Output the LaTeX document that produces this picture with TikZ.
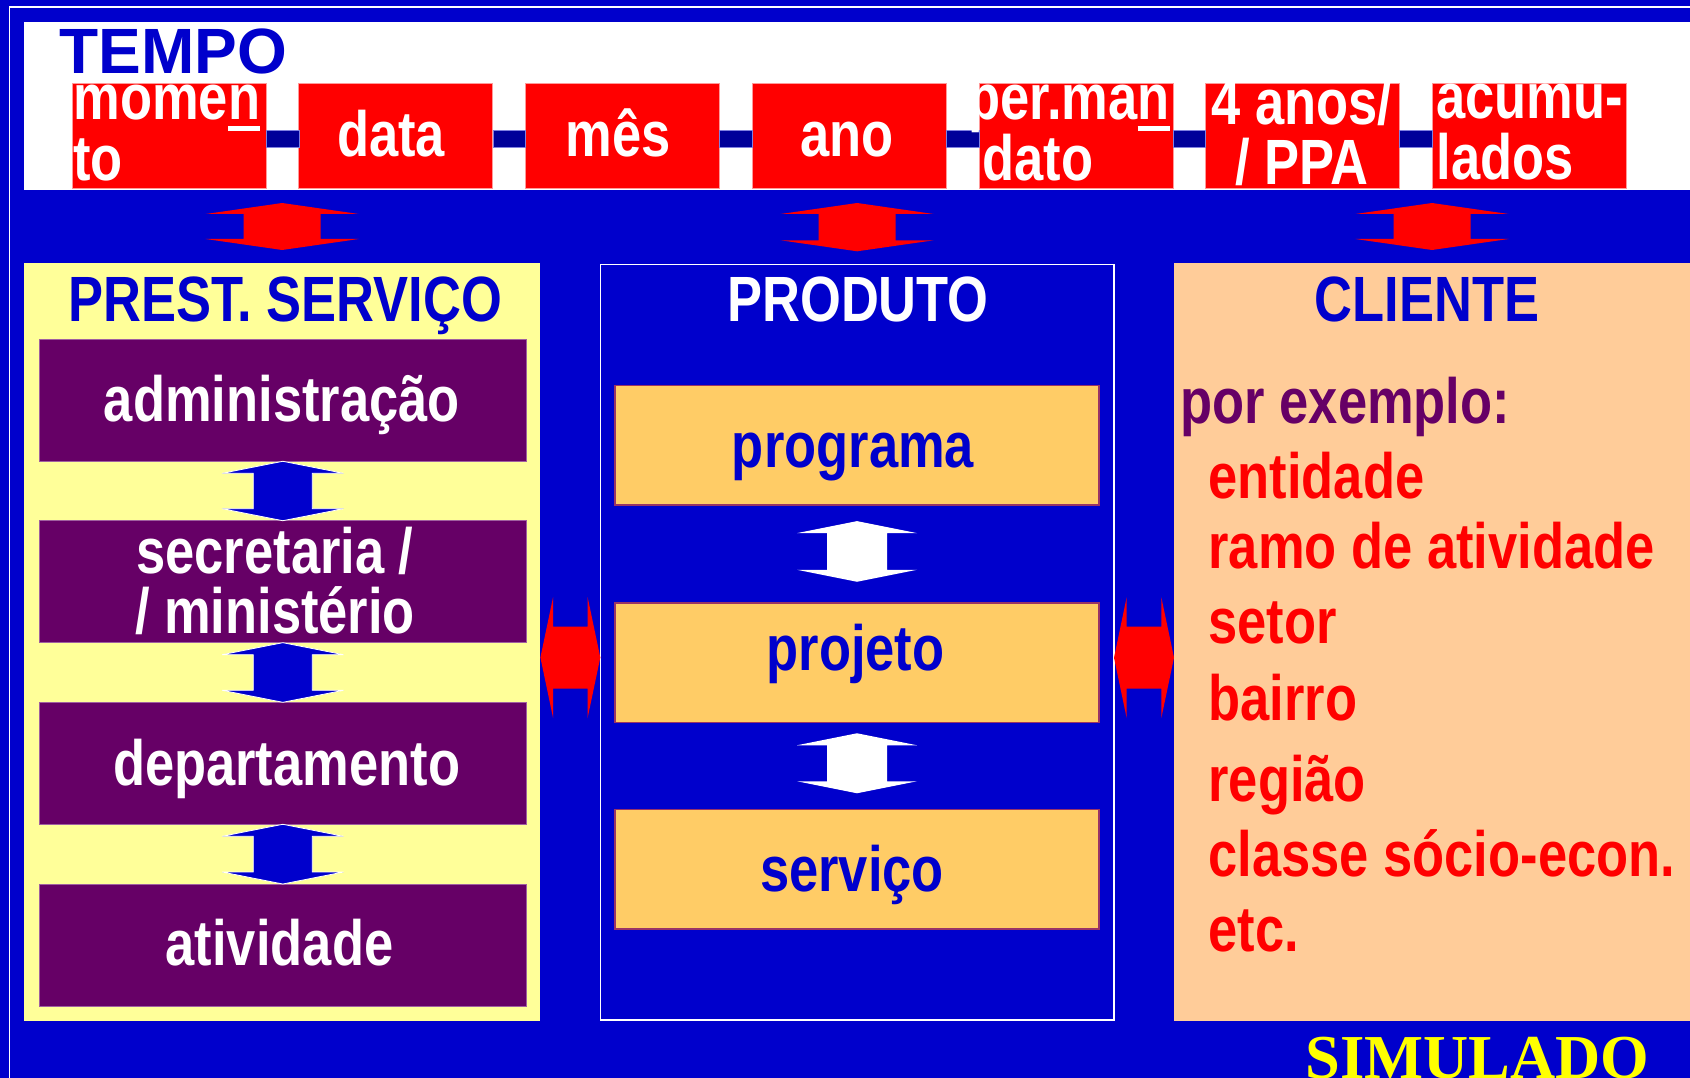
\documentclass[tikz,border=0pt]{standalone}
\usepackage{fontspec}
\usetikzlibrary{calc}
\newfontfamily\narfont{Liberation Sans}[FakeStretch=0.82]
\newfontfamily\arlfont{Liberation Sans}
\newfontfamily\tmsfont{Liberation Serif}
\definecolor{bgblue}{HTML}{0000CC}
\definecolor{navybar}{HTML}{000099}
\definecolor{barline}{HTML}{8080E0}
\definecolor{stripred}{HTML}{FF0000}
\definecolor{redline}{HTML}{FF9999}
\definecolor{yelpanel}{HTML}{FFFF99}
\definecolor{purpbox}{HTML}{660066}
\definecolor{purpline}{HTML}{A060A0}
\definecolor{orngbox}{HTML}{FFCC66}
\definecolor{orngline}{HTML}{993366}
\definecolor{peachpanel}{HTML}{FFCC99}
\definecolor{simyel}{HTML}{FFFF00}
\newcommand\ulin[1]{\setbox0\hbox{#1}\rlap{\rule[-11pt]{\wd0}{5pt}}\box0}
% vertical double block arrow: [style]{top point}{bottom point}{head half width}{shaft half width}{head depth}
\newcommand\varrow[6][]{%
  \path[#1] let \p1=#2, \p2=#3 in
  (\x1,\y1) -- (\x1-#4,\y1-#6) -- (\x1-#5,\y1-#6) -- (\x1-#5,\y2+#6) -- (\x1-#4,\y2+#6) -- (\x1,\y2)
  -- (\x1+#4,\y2+#6) -- (\x1+#5,\y2+#6) -- (\x1+#5,\y1-#6) -- (\x1+#4,\y1-#6) -- cycle;}
% horizontal double block arrow: [style]{left point}{right point}{head half height}{shaft half height}{head depth}
\newcommand\harrow[6][]{%
  \path[#1] let \p1=#2, \p2=#3 in
  (\x1,\y1) -- (\x1+#6,\y1+#4) -- (\x1+#6,\y1+#5) -- (\x2-#6,\y1+#5) -- (\x2-#6,\y1+#4) -- (\x2,\y1)
  -- (\x2-#6,\y1-#4) -- (\x2-#6,\y1-#5) -- (\x1+#6,\y1-#5) -- (\x1+#6,\y1-#4) -- cycle;}
\tikzset{
  every node/.style={inner sep=0pt, outer sep=0pt},
  narrowtext/.style={font=\narfont\bfseries\fontsize{64}{61}\selectfont},
  redbox/.style={fill=stripred, draw=redline, line width=1pt, minimum width=194pt, minimum height=105pt},
  bar/.style={fill=navybar, draw=barline, line width=0.8pt},
  purplebox/.style={fill=purpbox, draw=purpline, line width=1pt, minimum width=486.4pt, minimum height=122pt},
  orangebox/.style={fill=orngbox, draw=orngline, line width=1.5pt, minimum width=484pt, minimum height=119.5pt},
  redarrow/.style={fill=stripred},
  bluearrow/.style={fill=bgblue, draw=white, line width=0.8pt},
  whitearrow/.style={fill=white},
}
\begin{document}
\begin{tikzpicture}[x=1pt,y=-1pt]
\useasboundingbox (0,0) rectangle (1690,1078);
\fill[bgblue] (0,0) rectangle (1690,1078);
\draw[white, line width=1.2pt] (9.3,7) rectangle (1700,1090);
% time strip
\node[fill=white, anchor=north west, minimum width=1666pt, minimum height=168.3pt] (tstrip) at (24,21.7) {};
\node[anchor=base west, font=\arlfont\bfseries\fontsize{64}{64}\selectfont, text=bgblue] (tempo) at (59.7,74) {TEMPO};
\foreach \i/\x in {1/169.2,2/395.9,3/622.6,4/849.3,5/1076.0,6/1302.7,7/1529.4}
  \node[redbox] (b\i) at (\x,136.5) {};
\foreach \i/\j in {1/2,2/3,3/4,4/5,5/6,6/7}
  \filldraw[bar] ([yshift=6.5pt]b\i.east) rectangle ([yshift=-10.5pt]b\j.west);
% (base anchor of a two-line node = baseline of its last line)
\node[narrowtext, text=white, anchor=base west, align=left] (t1) at (73.5,181) {mome\ulin{n}\\to};
\node[narrowtext, text=white, anchor=base] (t2) at (391,157) {data};
\node[narrowtext, text=white, anchor=base] (t3) at (618,157) {mês};
\node[narrowtext, text=white, anchor=base] (t4) at (847,157) {ano};
\node[narrowtext, text=white, anchor=base west, align=left] (t5) at (968.3,181) {per.ma\ulin{n}\\\hspace*{14.2pt}dato};
\node[narrowtext, text=white, anchor=base, align=center, font=\narfont\bfseries\fontsize{64}{60}\selectfont] (t6) at (1302,185) {4 anos/\\/ PPA};
\node[narrowtext, text=white, anchor=base west, align=left] (t7) at (1436.5,180) {acumu-\\lados};
% panels
\node[fill=yelpanel, anchor=north west, minimum width=516.4pt, minimum height=758pt] (yp) at (24,263) {};
\node[fill=bgblue, draw=white, line width=1.5pt, anchor=north west, minimum width=513.7pt, minimum height=755.7pt] (mp) at (600.3,264.3) {};
\node[fill=peachpanel, anchor=north west, minimum width=516pt, minimum height=758pt] (pp) at (1174,263) {};
% arrows from time strip to panels
\varrow[redarrow]{($(yp.north |- tstrip.south)+(0,13)$)}{($(yp.north)+(0,-13)$)}{76.5}{38.5}{11}
\varrow[redarrow]{($(mp.north |- tstrip.south)+(0,13)$)}{($(mp.north)+(0,-13)$)}{76.5}{38.5}{11}
\varrow[redarrow]{($(pp.north |- tstrip.south)+(0,13)$)}{($(pp.north)+(0,-13)$)}{76.5}{38.5}{11}
% arrows between panels
\harrow[redarrow]{($(yp.east)+(0,15.5)$)}{(mp.west)}{60.5}{31}{12.7}
\harrow[redarrow]{($(mp.east)+(0,15.5)$)}{(pp.west)}{60.5}{31}{12.7}
% titles
\node[narrowtext, text=bgblue, anchor=base] (tps) at (285.2,321.7) {PREST. SERVIÇO};
\node[narrowtext, text=white, anchor=base] (tpr) at (858,321.7) {PRODUTO};
\node[narrowtext, text=bgblue, anchor=base] (tcl) at (1427,321.7) {CLIENTE};
% left column
\node[purplebox] (p1) at (282.8,400.3) {};
\node[purplebox] (p2) at (282.8,581.7) {};
\node[purplebox] (p3) at (282.8,763.3) {};
\node[purplebox] (p4) at (282.8,945) {};
\varrow[bluearrow]{(p1.south)}{(p2.north)}{60.7}{29.5}{12}
\varrow[bluearrow]{(p2.south)}{(p3.north)}{60.7}{29.5}{12}
\varrow[bluearrow]{(p3.south)}{(p4.north)}{60.7}{29.5}{12}
\node[narrowtext, text=white, anchor=base] (tp1) at (281.8,421.7) {administração};
\node[narrowtext, text=white, anchor=base, align=center, font=\narfont\bfseries\fontsize{64}{60}\selectfont] (tp2) at (275,633.3) {secretaria /\\/ ministério};
\node[narrowtext, text=white, anchor=base] (tp3) at (286.6,785) {departamento};
\node[narrowtext, text=white, anchor=base] (tp4) at (279.5,965) {atividade};
% middle column
\node[orangebox] (o1) at (857,445.35) {};
\node[orangebox] (o2) at (857,662.5) {};
\node[orangebox] (o3) at (857,869) {};
\varrow[whitearrow]{($(o1.south)+(0,16)$)}{($(o2.north)+(0,-21)$)}{60}{30}{12}
\varrow[whitearrow]{($(o2.south)+(0,11)$)}{($(o3.north)+(0,-16)$)}{60}{30}{12}
\node[narrowtext, text=bgblue, anchor=base] (to1) at (853,467.3) {programa};
\node[narrowtext, text=bgblue, anchor=base] (to2) at (855.5,670) {projeto};
\node[narrowtext, text=bgblue, anchor=base] (to3) at (852,891) {serviço};
% right column
\node[narrowtext, text=purpbox, anchor=base west] (pe) at (1180.6,423.3) {por exemplo:};
\node[narrowtext, text=stripred, anchor=base west] (c1) at (1208.5,498.3) {entidade};
\node[narrowtext, text=stripred, anchor=base west] (c2) at (1208.5,568.3) {ramo de atividade};
\node[narrowtext, text=stripred, anchor=base west] (c3) at (1208.5,643) {setor};
\node[narrowtext, text=stripred, anchor=base west] (c4) at (1208.5,720) {bairro};
\node[narrowtext, text=stripred, anchor=base west] (c5) at (1208.5,801.7) {região};
\node[narrowtext, text=stripred, anchor=base west] (c6) at (1208.5,876) {classe sócio-econ.};
\node[narrowtext, text=stripred, anchor=base west] (c7) at (1208.5,951.7) {etc.};
% watermark
\node[anchor=base west, font=\tmsfont\bfseries\fontsize{62.5}{62.5}\selectfont, text=simyel] (sim) at (1305.5,1078) {SIMULADO};
\end{tikzpicture}
\end{document}
